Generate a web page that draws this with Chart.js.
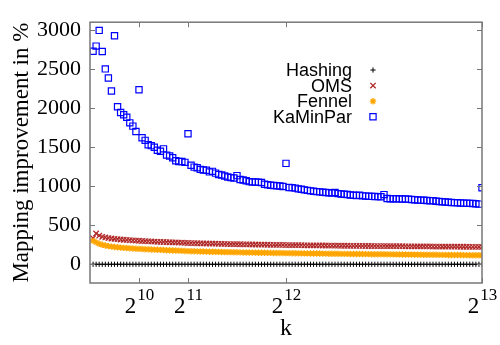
<!DOCTYPE html>
<html>
<head>
<meta charset="utf-8">
<script src="https://cdn.jsdelivr.net/npm/chart.js"></script>
<style>
  body { margin: 0; background: #fff; }
  #wrap { width: 500px; height: 345px; }
</style>
</head>
<body>
<div id="wrap"><canvas id="c" width="500" height="345"></canvas></div>
<script>
// k values (number of blocks)
const kValues = [
  64,128,192,256,320,384,448,512,576,640,704,768,832,896,960,1024,
  1088,1152,1216,1280,1344,1408,1472,1536,1600,1664,1728,1792,1856,1920,1984,2048,
  2112,2176,2240,2304,2368,2432,2496,2560,2624,2688,2752,2816,2880,2944,3008,3072,
  3136,3200,3264,3328,3392,3456,3520,3584,3648,3712,3776,3840,3904,3968,4032,4096,
  4160,4224,4288,4352,4416,4480,4544,4608,4672,4736,4800,4864,4928,4992,5056,5120,
  5184,5248,5312,5376,5440,5504,5568,5632,5696,5760,5824,5888,5952,6016,6080,6144,
  6208,6272,6336,6400,6464,6528,6592,6656,6720,6784,6848,6912,6976,7040,7104,7168,
  7232,7296,7360,7424,7488,7552,7616,7680,7744,7808,7872,7936,8000,8064,8128,8192
]

// mapping improvement in %, one value per k
const hashing = [
  0,0,0,0,0,0,0,0,0,0,0,0,0,0,0,0,
  0,0,0,0,0,0,0,0,0,0,0,0,0,0,0,0,
  0,0,0,0,0,0,0,0,0,0,0,0,0,0,0,0,
  0,0,0,0,0,0,0,0,0,0,0,0,0,0,0,0,
  0,0,0,0,0,0,0,0,0,0,0,0,0,0,0,0,
  0,0,0,0,0,0,0,0,0,0,0,0,0,0,0,0,
  0,0,0,0,0,0,0,0,0,0,0,0,0,0,0,0,
  0,0,0,0,0,0,0,0,0,0,0,0,0,0,0,0
]
const oms = [
  334,394,366,352,343,336,330,325,321,317,314,311,308,305,303,301,
  298,296,294,292,290,288,287,285,283,282,280,279,277,276,274,272,
  271,270,269,268,267,266,265,264,263,262,261,260,259,258,258,257,
  256,255,255,254,253,253,252,251,251,250,249,249,248,247,247,246,
  246,245,245,244,244,243,243,242,242,241,241,240,240,239,239,238,
  238,237,237,237,236,236,235,235,235,234,234,234,233,233,233,233,
  232,232,232,231,231,231,230,230,230,229,229,229,228,228,228,227,
  227,227,226,226,226,225,225,225,224,224,224,223,223,223,222,222
]
const fennel = [
  300,280,262,250,240,232,226,221,217,213,210,207,204,201,199,197,
  195,193,191,189,187,185,184,182,180,179,177,176,174,172,170,168,
  167,166,165,164,163,162,161,160,159,158,157,156,155,155,154,153,
  152,151,151,150,149,149,148,147,147,146,146,145,144,144,143,142,
  142,141,141,140,140,139,139,138,138,137,137,136,136,135,135,134,
  134,133,133,133,132,132,131,131,131,130,130,129,129,129,128,128,
  127,127,126,126,126,125,125,124,124,124,123,123,122,122,122,121,
  121,120,120,120,119,119,118,118,118,117,117,116,116,116,115,115
]
const kaminpar = [
  2728,2794,2995,2724,2502,2385,2218,2927,2017,1944,1915,1883,1811,1769,1701,2235,
  1620,1587,1531,1519,1499,1459,1447,1478,1398,1386,1365,1325,1317,1317,1305,1672,
  1268,1244,1235,1215,1207,1204,1183,1190,1167,1150,1143,1130,1118,1110,1105,1135,
  1086,1078,1070,1058,1053,1053,1050,1046,1025,1018,1012,1008,1005,1003,995,1292,
  983,981,975,965,960,953,946,940,935,930,927,922,918,916,913,918,
  905,900,896,893,888,884,880,883,876,873,871,869,868,866,864,892,
  842,840,839,838,837,836,835,834,830,827,824,821,819,816,813,815,
  806,803,800,797,794,792,789,787,785,783,782,780,779,775,770,980
]

const xTicks = [1024, 2048, 4096, 8192]
const xTickExp = ['10', '11', '12', '13']
const yTicks = [0, 500, 1000, 1500, 2000, 2500, 3000]

function pts(ys) {
    return kValues.map((k, i) => ({ x: k, y: ys[i] }))
}

const serif = '"Liberation Serif", "Times New Roman", serif'
const sans = '"Liberation Sans", Arial, sans-serif'
const frameColor = '#777'

// gnuplot-like frame with inward ticks on all four sides
const framePlugin = {
    id: 'frame',
    afterDatasetsDraw(chart) {
        const ctx = chart.ctx
        const a = chart.chartArea
        const xs = chart.scales.x, ys = chart.scales.y
        ctx.save()
        ctx.strokeStyle = frameColor
        ctx.lineWidth = 1.5
        ctx.strokeRect(a.left, a.top, a.right - a.left, a.bottom - a.top)
        ctx.lineWidth = 1
        ctx.beginPath()
        yTicks.forEach(v => {
            const y = Math.round(ys.getPixelForValue(v)) + 0.5
            ctx.moveTo(a.left, y); ctx.lineTo(a.left + 5, y)
            ctx.moveTo(a.right, y); ctx.lineTo(a.right - 5, y)
        })
        xTicks.forEach(v => {
            const x = Math.round(xs.getPixelForValue(v)) + 0.5
            ctx.moveTo(x, a.bottom); ctx.lineTo(x, a.bottom - 5)
            ctx.moveTo(x, a.top); ctx.lineTo(x, a.top + 5)
        })
        ctx.stroke()

        // x tick labels as 2^n
        ctx.fillStyle = '#000'
        ctx.textBaseline = 'alphabetic'
        ctx.textAlign = 'left'
        xTicks.forEach((v, i) => {
            const x = xs.getPixelForValue(v)
            ctx.font = '23px ' + serif
            const wb = ctx.measureText('2').width
            ctx.font = '17px ' + serif
            const we = ctx.measureText(xTickExp[i]).width
            const x0 = x - (wb + we) / 2
            ctx.font = '23px ' + serif
            ctx.fillText('2', x0, 313)
            ctx.font = '17px ' + serif
            ctx.fillText(xTickExp[i], x0 + wb + 1, 300)
        })
        ctx.restore()
    }
}

// legend in gnuplot style: right aligned text, marker on the right
const keyPlugin = {
    id: 'key',
    afterDraw(chart) {
        const ctx = chart.ctx
        ctx.save()
        ctx.font = '18px ' + sans
        ctx.textAlign = 'right'
        ctx.textBaseline = 'middle'
        chart.data.datasets.forEach((ds, i) => {
            const y = 70 + i * 15.6
            ctx.fillStyle = '#000'
            ctx.fillText(ds.label, 352, y + 1)
            ctx.strokeStyle = ds.borderColor
            ctx.fillStyle = 'rgba(0,0,0,0)'
            ctx.lineWidth = ds.pointBorderWidth
            Chart.helpers.drawPoint(ctx, {
                pointStyle: ds.pointStyle, radius: ds.pointRadius,
                rotation: 0, borderWidth: ds.pointBorderWidth
            }, 373, y)
        })
        ctx.restore()
    }
}

new Chart(document.getElementById('c'), {
    type: 'scatter',
    data: {
        datasets: [
            { label: 'Hashing', data: pts(hashing), pointStyle: 'cross', pointRadius: 2.6,
              borderColor: '#000', backgroundColor: 'transparent', pointBorderWidth: 1, order: 4 },
            { label: 'OMS', data: pts(oms), pointStyle: 'crossRot', pointRadius: 3.8,
              borderColor: '#b02828', backgroundColor: 'transparent', pointBorderWidth: 1.3, order: 3 },
            { label: 'Fennel', data: pts(fennel), pointStyle: 'star', pointRadius: 3.2,
              borderColor: '#ffa500', backgroundColor: 'transparent', pointBorderWidth: 1.3, order: 2 },
            { label: 'KaMinPar', data: pts(kaminpar), pointStyle: 'rect', pointRadius: 4.4,
              borderColor: '#0000ff', backgroundColor: 'transparent', pointBorderWidth: 1.2, order: 1 }
        ]
    },
    options: {
        responsive: false,
        animation: false,
        layout: { padding: { left: 0, right: 18, top: 8, bottom: 0 } },
        plugins: { legend: { display: false }, tooltip: { enabled: false } },
        scales: {
            x: {
                type: 'linear', min: 0, max: 8192,
                grid: { display: false, drawTicks: false },
                border: { display: false },
                ticks: { display: false },
                afterBuildTicks: s => { s.ticks = xTicks.map(v => ({ value: v })) },
                afterFit: s => { s.height = 62 },
                title: { display: true, text: 'k', color: '#000',
                         font: { family: serif, size: 24 }, padding: { top: 0, bottom: 2 } }
            },
            y: {
                type: 'linear', min: -240, max: 3100,
                grid: { display: false, drawTicks: false },
                border: { display: false },
                ticks: { color: '#000', font: { family: serif, size: 22 }, padding: 9,
                         callback: v => String(v) },
                afterBuildTicks: s => { s.ticks = yTicks.map(v => ({ value: v })) },
                afterFit: s => { s.width = 90 },
                title: { display: true, text: 'Mapping improvement in %', color: '#000',
                         font: { family: serif, size: 23 }, padding: { top: 8, bottom: 0 } }
            }
        }
    },
    plugins: [framePlugin, keyPlugin]
})
</script>
</body>
</html>
